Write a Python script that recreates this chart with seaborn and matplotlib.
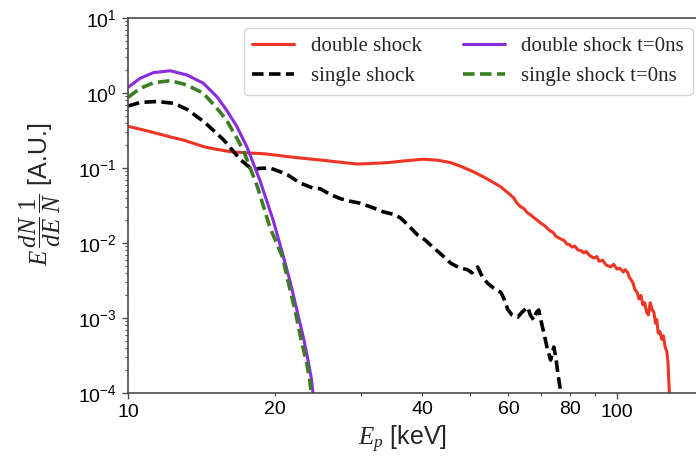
import numpy as np
import pandas as pd
import seaborn as sns
import matplotlib.pyplot as plt

# spectra (E in keV, E dN/dE 1/N in A.U.)
red_E = [10, 11, 12.2, 13, 14.3, 15, 16.2, 17.8, 19, 21.2, 22.5, 24.7, 27, 29.4, 31.5,
         34, 37, 40.2, 43, 45.7, 48, 50.9, 54, 57.9, 60.5, 61.5, 62.5, 63.5, 64.5, 65.5,
         66.5, 67.5, 68.5, 69.8, 71, 72, 73, 74, 75, 76.8, 78, 79, 80, 81, 82, 83.2, 84.5,
         85.5, 86.5, 88, 89.7, 91, 92, 93.5, 95, 97.2, 98.5, 100, 101.5, 103, 104, 105.3,
         106, 107, 108, 108.8, 110, 111, 112, 113, 114, 115, 116, 117, 118, 119, 120,
         120.7, 121.5, 122.5, 123.5, 124.5, 125.5, 126.5, 127.2, 127.8, 128.1]
red_val = [0.36, 0.31, 0.26, 0.235, 0.192, 0.18, 0.165, 0.158, 0.155, 0.142, 0.136, 0.128,
           0.12, 0.113, 0.115, 0.118, 0.125, 0.131, 0.127, 0.118, 0.105, 0.089, 0.073,
           0.056, 0.044, 0.040, 0.034, 0.0305, 0.029, 0.0255, 0.024, 0.022, 0.0205, 0.0185,
           0.0172, 0.0158, 0.0145, 0.0139, 0.0123, 0.0113, 0.0108, 0.0097, 0.0095, 0.0088,
           0.0091, 0.0081, 0.0079, 0.0074, 0.0077, 0.0068, 0.0063, 0.0066, 0.0057, 0.0059,
           0.0051, 0.0048, 0.0052, 0.0045, 0.0046, 0.0041, 0.0044, 0.0040, 0.0035, 0.0032,
           0.0029, 0.0024, 0.0022, 0.0018, 0.0020, 0.0015, 0.0016, 0.0012, 0.0011, 0.0016,
           0.0013, 0.0012, 0.00085, 0.00095, 0.00063, 0.00066, 0.00052, 0.00058, 0.00041,
           0.00036, 0.00026, 0.00013, 0.0001]

black_E = [10, 10.6, 11.45, 12.4, 13.2, 14.3, 15.7, 17, 18, 18.6, 19.5, 20.5, 21.2, 22.5,
           23.9, 24.7, 26, 27.2, 28.5, 29.8, 31.5, 33.3, 35, 36.1, 37.5, 39.1, 40.5, 42.2,
           44, 45.7, 47.5, 49.5, 50.5, 51.9, 53, 54.4, 56, 57.9, 59, 59.8, 61, 62.7, 64,
           65.7, 66.5, 67.6, 68.5, 69.2, 70, 70.9, 72, 73.2, 74.3, 75, 75.7, 76.8]
black_val = [0.67, 0.75, 0.77, 0.73, 0.605, 0.414, 0.236, 0.128, 0.094, 0.099, 0.10, 0.089,
             0.081, 0.063, 0.054, 0.053, 0.044, 0.039, 0.036, 0.034, 0.030, 0.026, 0.024,
             0.0216, 0.017, 0.0128, 0.011, 0.0086, 0.0068, 0.0054, 0.0047, 0.0044, 0.0040,
             0.0048, 0.0036, 0.0029, 0.0025, 0.0022, 0.0017, 0.0013, 0.0011, 0.00103,
             0.0012, 0.0014, 0.0011, 0.00094, 0.0012, 0.00128, 0.0009, 0.00063, 0.0004,
             0.000275, 0.00041, 0.0003, 0.000185, 0.0001]

purple_E = [10, 10.58, 11.27, 12.2, 13.2, 14.26, 15.2, 15.9, 16.7, 17.5, 18.6, 19.8, 20.8,
            21.5, 22.2, 22.9, 23.4, 23.7, 23.9]
purple_val = [1.19, 1.57, 1.87, 1.98, 1.74, 1.35, 0.89, 0.593, 0.356, 0.192, 0.069, 0.0203,
              0.0065, 0.0029, 0.0012, 0.00051, 0.00025, 0.00016, 0.0001]

green_E = [10, 10.58, 11.27, 12.2, 13.2, 14.26, 15.2, 15.9, 16.7, 17.2, 18.4, 19.5, 20.7,
           21.3, 22.0, 22.6, 23.2, 23.5, 23.7]
green_val = [0.877, 1.15, 1.37, 1.46, 1.28, 0.99, 0.625, 0.436, 0.249, 0.174, 0.0558,
             0.0163, 0.0065, 0.0029, 0.0012, 0.00051, 0.00025, 0.00016, 0.0001]

sns.set_style('ticks')
plt.rcParams['font.family'] = ['Liberation Sans', 'DejaVu Sans']
plt.rcParams['mathtext.fontset'] = 'custom'
plt.rcParams['mathtext.rm'] = 'Liberation Sans'
plt.rcParams['mathtext.it'] = 'Liberation Serif:italic'
plt.rcParams['mathtext.sf'] = 'Liberation Serif'
plt.rcParams['lines.dashed_pattern'] = [3.2, 1.5]

fig = plt.figure(figsize=(6.96, 4.69), dpi=100)
ax = fig.add_axes([0.184, 0.162, 0.826, 0.7996])

series = [
    (red_E, red_val, 'double shock', '#ee3524', '-', 2.2),
    (black_E, black_val, 'single shock', 'black', '--', 2.6),
    (purple_E, purple_val, 'double shock t=0ns', '#8a2be2', '-', 2.2),
    (green_E, green_val, 'single shock t=0ns', '#3b7d23', '--', 2.6),
]
for e, v, name, col, ls, lw in series:
    d = pd.DataFrame({'E': e, 'val': v})
    sns.lineplot(data=d, x='E', y='val', ax=ax, color=col, linestyle=ls, lw=lw,
                 label=name, estimator=None, sort=False)

ax.set_xscale('log')
ax.set_yscale('log')
ax.set_xlim(10, 150)
ax.set_ylim(1e-4, 10)

ax.set_xticks([10, 100])
ax.set_xticklabels(['10', '100'], fontsize=14)
ax.set_xticks([20, 30, 40, 50, 60, 70, 80, 90], minor=True)
ax.set_xticklabels(['20', '', '40', '', '60', '', '80', ''], minor=True, fontsize=14)

for s in ax.spines.values():
    s.set_color('0.3')
    s.set_linewidth(1.2)
ax.tick_params(which='both', direction='out', colors='0.3', labelcolor='black', labelsize=14)
ax.tick_params(which='major', length=4.5, width=1)
ax.tick_params(which='minor', length=2.5, width=0.8)

ax.set_xlabel(r'$E_p$ [keV]', fontsize=18, labelpad=2)
ax.xaxis.label.set_x(0.478)
ax.set_ylabel(r'$E\,\dfrac{dN}{dE}\,\dfrac{\mathsf{1}}{N}$ [A.U.]', fontsize=18, labelpad=11)
ax.yaxis.label.set_y(0.53)

ax.legend(ncol=2, loc='upper right', prop={'family': 'Liberation Serif', 'size': 15})

fig.savefig('out.png', dpi=100)
